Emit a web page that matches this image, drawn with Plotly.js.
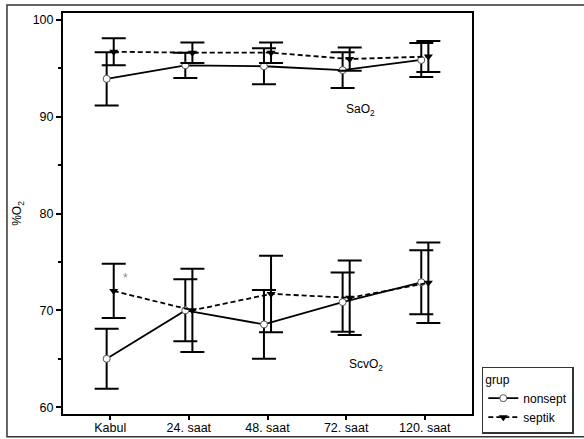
<!DOCTYPE html>
<html>
<head>
<meta charset="utf-8">
<script src="https://cdn.plot.ly/plotly-3.0.1.min.js"></script>
<style>html,body{margin:0;padding:0;background:#fff;}#chart{width:584px;height:439px;}</style>
</head>
<body>
<div id="chart"></div>
<script>
const categories = ['Kabul', '24. saat', '48. saat', '72. saat', '120. saat'];
const groups = ['nonsept', 'septik'];

const saO2_nonsept = [93.9, 95.3, 95.2, 94.8, 95.85];
const saO2_nonsept_err = [2.75, 1.3, 1.85, 1.85, 1.75];
const saO2_septik = [96.7, 96.6, 96.6, 95.95, 96.2];
const saO2_septik_err = [1.4, 1.05, 1.05, 1.2, 1.6];

const scvO2_nonsept = [65.0, 70.0, 68.55, 70.85, 72.9];
const scvO2_nonsept_err = [3.1, 3.2, 3.55, 3.05, 3.3];
const scvO2_septik = [72.0, 70.0, 71.7, 71.3, 72.85];
const scvO2_septik_err = [2.8, 4.3, 3.95, 3.85, 4.15];

const idx = categories.map((c, i) => i);
const offset = 0.045;
const xNon = idx.map(i => i - offset);
const xSep = idx.map(i => i + offset);

const nonStyle = {
  mode: 'lines+markers',
  line: {color: '#000', width: 1.8},
  marker: {symbol: 'circle', size: 7, color: '#fff', line: {color: '#555', width: 1}},
  legendgroup: 'nonsept'
};
const sepStyle = {
  mode: 'lines+markers',
  line: {color: '#000', width: 1.8, dash: '5px,3px'},
  marker: {symbol: 'triangle-down', size: 8, color: '#000'},
  legendgroup: 'septik'
};
function err(arr) {
  return {type: 'data', array: arr, visible: true, color: '#000', thickness: 2, width: 12};
}

const traces = [
  Object.assign({x: xNon, y: scvO2_nonsept, error_y: err(scvO2_nonsept_err), name: groups[0], showlegend: false}, nonStyle),
  Object.assign({x: xSep, y: scvO2_septik, error_y: err(scvO2_septik_err), name: groups[1], showlegend: false}, sepStyle),
  Object.assign({x: xNon, y: saO2_nonsept, error_y: err(saO2_nonsept_err), name: groups[0], showlegend: true}, nonStyle),
  Object.assign({x: xSep, y: saO2_septik, error_y: err(saO2_septik_err), name: groups[1], showlegend: true}, sepStyle)
];

const font = {family: '"Liberation Sans", Arial, sans-serif', size: 12, color: '#000'};
const tickFont = {family: '"Liberation Sans", Arial, sans-serif', size: 12.5, color: '#000'};

const layout = {
  width: 584, height: 439,
  margin: {l: 63, r: 112, t: 13, b: 25, autoexpand: false},
  paper_bgcolor: '#fff', plot_bgcolor: '#fff',
  font: font,
  showlegend: true,
  legend: {
    title: {text: 'grup', font: font},
    xref: 'container', yref: 'container',
    x: 0.825, xanchor: 'left', y: 0.165, yanchor: 'top',
    bordercolor: '#333', borderwidth: 1.5,
    font: font, tracegroupgap: 0, itemwidth: 30,
    traceorder: 'normal'
  },
  xaxis: {
    range: [-0.6, 4.6], automargin: false,
    tickmode: 'array', tickvals: idx, ticktext: categories,
    tickfont: tickFont, ticklabelstandoff: -3,
    ticks: 'outside', ticklen: 4, tickwidth: 2, tickcolor: '#000',
    showline: true, linewidth: 2, linecolor: '#000', mirror: true,
    showgrid: false, zeroline: false
  },
  yaxis: {
    range: [59.3, 100.7], automargin: false,
    tickvals: [60, 70, 80, 90, 100],
    tickfont: tickFont,
    ticks: 'outside', ticklen: 5, tickwidth: 2, tickcolor: '#000',
    minor: {tickvals: [65, 75, 85, 95], ticks: 'outside', ticklen: 3, tickwidth: 1.5, tickcolor: '#000', showgrid: false},
    showline: true, linewidth: 2, linecolor: '#000', mirror: true,
    showgrid: false, zeroline: false,
    title: {text: '%O<sub>2</sub>', font: font, standoff: 8}
  },
  annotations: [
    {x: 3.18, y: 90.7, xref: 'x', yref: 'y', text: 'SaO<sub>2</sub>', showarrow: false, font: font},
    {x: 3.25, y: 64.4, xref: 'x', yref: 'y', text: 'ScvO<sub>2</sub>', showarrow: false, font: font},
    {x: 0.19, y: 73.3, xref: 'x', yref: 'y', text: '*', showarrow: false, font: {family: font.family, size: 12, color: '#888'}}
  ],
  shapes: [
    {type: 'rect', xref: 'paper', yref: 'paper', x0: -0.137, x1: 1.285, y0: -0.057, y1: 1.02,
     line: {color: '#333', width: 1.5}, fillcolor: 'rgba(0,0,0,0)', layer: 'below'}
  ]
};

Plotly.newPlot('chart', traces, layout, {displayModeBar: false, staticPlot: true});
</script>
</body>
</html>
